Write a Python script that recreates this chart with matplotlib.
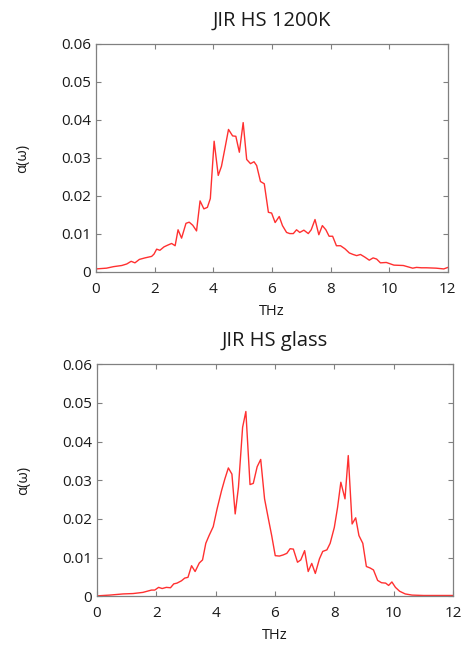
import numpy as np
import matplotlib
matplotlib.use("Agg")
import matplotlib.pyplot as plt

plt.rcParams['font.family'] = ['Open Sans', 'DejaVu Sans']

# alpha(omega) vs frequency
thz_hot = [0, 0.36, 0.6, 0.88, 1.05, 1.2, 1.33, 1.48, 1.67, 1.9, 1.98, 2.07, 2.18,
           2.32, 2.43, 2.58, 2.7, 2.8, 2.92, 3.07, 3.18, 3.3, 3.43, 3.55, 3.68, 3.8,
           3.9, 4.03, 4.17, 4.28, 4.4, 4.52, 4.66, 4.77, 4.89, 5.02, 5.14, 5.27,
           5.39, 5.48, 5.61, 5.74, 5.88, 5.99, 6.11, 6.25, 6.36, 6.5, 6.61, 6.73,
           6.84, 6.95, 7.09, 7.24, 7.34, 7.47, 7.6, 7.72, 7.84, 7.95, 8.07, 8.2,
           8.34, 8.49, 8.64, 8.77, 8.89, 9.02, 9.17, 9.32, 9.45, 9.57, 9.7, 9.9,
           10.16, 10.48, 10.8, 10.93, 11.1, 11.27, 11.6, 11.86, 12.0]
alpha_hot = [0.0008, 0.001, 0.0014, 0.0017, 0.0021, 0.0028, 0.0024, 0.0033, 0.0037,
             0.0041, 0.0047, 0.006, 0.0057, 0.0066, 0.007, 0.0075, 0.0069, 0.0111,
             0.0089, 0.0128, 0.0131, 0.0123, 0.0108, 0.0187, 0.0166, 0.017, 0.0193,
             0.0344, 0.0254, 0.0278, 0.0326, 0.0375, 0.0358, 0.0357, 0.0315, 0.0393,
             0.0296, 0.0285, 0.029, 0.028, 0.0238, 0.0232, 0.0157, 0.0155, 0.013,
             0.0146, 0.0122, 0.0104, 0.0101, 0.0101, 0.0111, 0.0104, 0.011, 0.0101,
             0.0111, 0.0138, 0.0098, 0.0122, 0.0111, 0.0094, 0.0094, 0.0069, 0.0069,
             0.0061, 0.005, 0.0046, 0.0043, 0.0046, 0.0039, 0.0031, 0.0037, 0.0034,
             0.0024, 0.0025, 0.0018, 0.0017, 0.001, 0.0012, 0.0011, 0.0011, 0.001,
             0.0008, 0.0012]

thz_glass = [0, 0.43, 0.88, 1.22, 1.55, 1.84, 1.95, 2.08, 2.2, 2.34, 2.48, 2.59, 2.7,
             2.85, 2.96, 3.07, 3.19, 3.31, 3.45, 3.56, 3.67, 3.78, 3.92, 4.05, 4.2,
             4.31, 4.43, 4.55, 4.66, 4.77, 4.91, 5.02, 5.16, 5.27, 5.4, 5.52, 5.65,
             5.78, 5.89, 6.01, 6.15, 6.28, 6.4, 6.51, 6.62, 6.76, 6.87, 7.0, 7.12,
             7.24, 7.36, 7.5, 7.61, 7.75, 7.86, 8.0, 8.11, 8.22, 8.36, 8.47, 8.6,
             8.72, 8.83, 8.96, 9.08, 9.21, 9.32, 9.46, 9.59, 9.73, 9.83, 9.94, 10.06,
             10.2, 10.39, 10.62, 11.01, 12.0]
alpha_glass = [0.0001, 0.0003, 0.0006, 0.0007, 0.001, 0.0016, 0.0016, 0.0023, 0.002,
               0.0023, 0.0022, 0.0032, 0.0034, 0.004, 0.0047, 0.0049, 0.0079, 0.0064,
               0.0086, 0.0094, 0.0137, 0.0157, 0.018, 0.0226, 0.0273, 0.0303, 0.0332,
               0.0316, 0.0213, 0.0282, 0.0437, 0.0478, 0.0289, 0.0292, 0.0335, 0.0354,
               0.0252, 0.02, 0.0157, 0.0105, 0.0104, 0.0107, 0.0111, 0.0123, 0.0122,
               0.0088, 0.0094, 0.0118, 0.0064, 0.0085, 0.0059, 0.0097, 0.0116, 0.012,
               0.0137, 0.0178, 0.023, 0.0295, 0.0252, 0.0364, 0.0187, 0.0203, 0.0157,
               0.0137, 0.0077, 0.0073, 0.0068, 0.0041, 0.0035, 0.0034, 0.0028, 0.0037,
               0.0023, 0.0013, 0.0006, 0.0003, 0.0002, 0.0002]

titles = ['JIR HS 1200K', 'JIR HS glass']
xticks = [0, 2, 4, 6, 8, 10, 12]
yticks = [0, 0.01, 0.02, 0.03, 0.04, 0.05, 0.06]
ytick_labels = ['0', '0.01', '0.02', '0.03', '0.04', '0.05', '0.06']

fig = plt.figure(figsize=(4.68, 6.46), dpi=100)
ax1 = fig.add_axes([0.205, 0.579, 0.752, 0.353])
ax2 = fig.add_axes([0.207, 0.077, 0.761, 0.359])

for ax, x, y, title in [(ax1, thz_hot, alpha_hot, titles[0]),
                        (ax2, thz_glass, alpha_glass, titles[1])]:
    ax.plot(x, y, color='#ff3030', lw=1.0)
    ax.set_xlim(0, 12)
    ax.set_ylim(0, 0.06)
    ax.set_xticks(xticks)
    ax.set_yticks(yticks)
    ax.set_yticklabels(ytick_labels)
    ax.tick_params(direction='in', top=True, right=True, length=3.5,
                   color='#808080', labelsize=11, labelcolor='#1a1a1a')
    ax.tick_params(axis='x', pad=7)
    for s in ax.spines.values():
        s.set_color('#808080')
        s.set_linewidth(0.9)
    ax.set_title(title, fontsize=14.5, color='#1a1a1a', pad=13)
    ax.set_xlabel('THz', fontsize=10.5, color='#1a1a1a', labelpad=5)
    ax.set_ylabel('α(ω)', fontsize=10.5, color='#1a1a1a', labelpad=22)

fig.savefig('out.png', dpi=100)
